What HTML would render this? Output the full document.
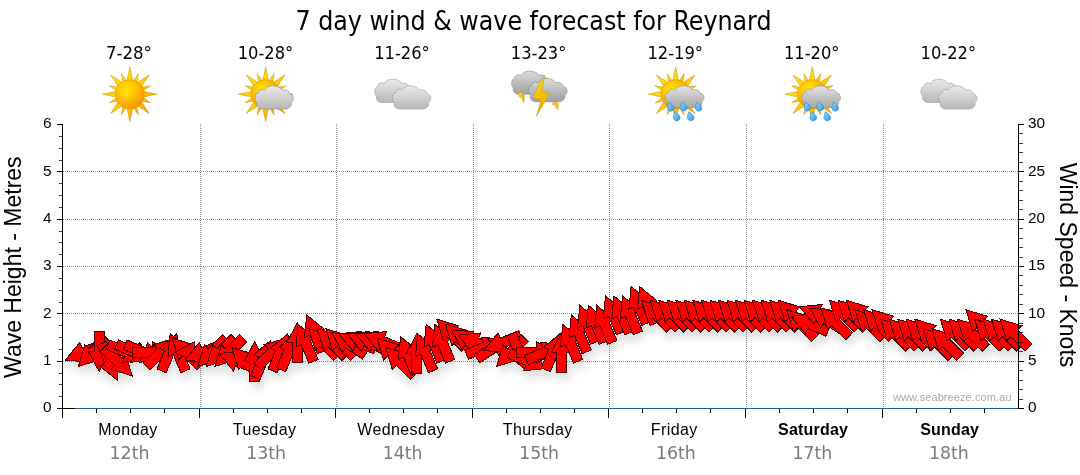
<!DOCTYPE html><html><head><meta charset="utf-8"><title>7 day wind &amp; wave forecast for Reynard</title>
<style>html,body{margin:0;padding:0;background:#fff}svg{display:block}text{font-family:"Liberation Sans",sans-serif}.t{font-family:"DejaVu Sans Condensed","DejaVu Sans","Liberation Sans",sans-serif}.v{font-family:"DejaVu Sans","Liberation Sans",sans-serif}</style></head><body>
<svg width="1080" height="475" viewBox="0 0 1080 475">
<defs>
<filter id="sh" x="-5%" y="-50%" width="110%" height="250%"><feGaussianBlur in="SourceAlpha" stdDeviation="4.5"/><feOffset dx="2" dy="7" result="b"/><feComponentTransfer><feFuncA type="linear" slope="0.13"/></feComponentTransfer><feMerge><feMergeNode/><feMergeNode in="SourceGraphic"/></feMerge></filter>
<radialGradient id="sg" cx="0.38" cy="0.35" r="0.7"><stop offset="0" stop-color="#ffe600"/><stop offset="0.45" stop-color="#ffc400"/><stop offset="1" stop-color="#f39200"/></radialGradient>
<linearGradient id="rg" x1="0" y1="0" x2="1" y2="1"><stop offset="0" stop-color="#ffe81a"/><stop offset="0.5" stop-color="#ffcb00"/><stop offset="1" stop-color="#f29a0c"/></linearGradient>
<linearGradient id="cg" x1="0" y1="0" x2="0" y2="1"><stop offset="0" stop-color="#ebebeb"/><stop offset="1" stop-color="#b6b6b6"/></linearGradient>
<linearGradient id="cgd" x1="0" y1="0" x2="0" y2="1"><stop offset="0" stop-color="#dcdcdc"/><stop offset="1" stop-color="#a0a0a0"/></linearGradient>
<linearGradient id="cgr" x1="0" y1="0" x2="0" y2="1"><stop offset="0" stop-color="#e2e2e2"/><stop offset="1" stop-color="#a8a8a8"/></linearGradient>
<linearGradient id="bg" x1="0" y1="0" x2="0.3" y2="1"><stop offset="0" stop-color="#ffe400"/><stop offset="1" stop-color="#f0a800"/></linearGradient>
<linearGradient id="dg" x1="0" y1="0" x2="1" y2="1"><stop offset="0" stop-color="#9adcfa"/><stop offset="1" stop-color="#2a97e2"/></linearGradient>
<path id="cl" d="M7.5,23.3 C3,23.3 0.8,20 2,17 C-0.8,15 -0.8,8.5 3.2,7 C3.5,3.6 7.4,2.6 9.4,4.8 C11,1.2 15,0 18,0 C22,0 26,1.8 27.2,4.6 C30,3 34.2,4.6 34.6,8 C38.8,8.6 39.8,14.2 36.2,17 C37.2,20 34.2,23.3 30,23.3 Z"/>
<g id="sunb"><path fill="url(#rg)" stroke="#c98c00" stroke-width="0.5" d="M2.9,-13.5 L0.0,-27.3 L-2.9,-13.5 Z M7.0,-11.7 L8.5,-20.6 L3.3,-13.2 Z M11.6,-7.5 L19.3,-19.3 L7.5,-11.6 Z M13.2,-3.3 L20.6,-8.5 L11.7,-7.0 Z M13.5,2.9 L27.3,0.0 L13.5,-2.9 Z M11.7,7.0 L20.6,8.5 L13.2,3.3 Z M7.5,11.6 L19.3,19.3 L11.6,7.5 Z M3.3,13.2 L8.5,20.6 L7.0,11.7 Z M-2.9,13.5 L0.0,27.3 L2.9,13.5 Z M-7.0,11.7 L-8.5,20.6 L-3.3,13.2 Z M-11.6,7.5 L-19.3,19.3 L-7.5,11.6 Z M-13.2,3.3 L-20.6,8.5 L-11.7,7.0 Z M-13.5,-2.9 L-27.3,0.0 L-13.5,2.9 Z M-11.7,-7.0 L-20.6,-8.5 L-13.2,-3.3 Z M-7.5,-11.6 L-19.3,-19.3 L-11.6,-7.5 Z M-3.3,-13.2 L-8.5,-20.6 L-7.0,-11.7 Z"/><circle r="14.6" fill="url(#sg)" stroke="#e09a00" stroke-width="0.5"/></g>
<g id="drop"><path transform="scale(1.25)" d="M-1.6,-3.6 C0.5,-2.2 2.6,-0.6 2.6,1.2 C2.6,2.8 1.4,3.6 0,3.6 C-1.6,3.6 -2.7,2.4 -2.7,1 C-2.7,-0.6 -2,-2 -1.6,-3.6 Z" fill="url(#dg)" stroke="#2486cf" stroke-width="0.5"/></g>
<g id="sun"><use href="#sunb" x="-0.4"/></g>
<g id="suncloud"><use href="#sunb" x="-1.2"/><use href="#cl" x="-11.9" y="-8.4" fill="url(#cg)" stroke="#8a8a8a" stroke-width="0.6"/></g>
<g id="clouds"><use href="#cl" x="-28.8" y="-15" fill="url(#cg)" stroke="#9a9a9a" stroke-width="0.6"/><use href="#cl" x="-11.1" y="-8.4" fill="url(#cg)" stroke="#9a9a9a" stroke-width="0.6"/></g>
<g id="storm"><use href="#cl" x="-28.4" y="-23.2" fill="url(#cgd)" stroke="#888" stroke-width="0.6"/><path d="M-21.5,-1.8 L-17.4,-1.8 L-18,1.4 L-15.6,0.9 L-16,8.6 L-19,2.6 L-20.6,3 Z" fill="url(#bg)" stroke="#c99700" stroke-width="0.4"/><path d="M13.2,7 L17.4,6.4 L16,9 L18.4,8.8 L17.6,15.6 L14.6,10.4 L12.6,10.8 Z" fill="url(#bg)" stroke="#c99700" stroke-width="0.4"/><use href="#cl" x="-11.4" y="-15.8" fill="url(#cgd)" stroke="#888" stroke-width="0.6" transform="translate(0,0)"/><path d="M4.5,-19 L-7.7,3.4 L1.1,5.3 L-3.6,22.2 L9.7,-1 L1.8,-2.5 Z" fill="url(#bg)" stroke="#c99700" stroke-width="0.5"/></g>
<g id="sunrain"><use href="#sunb" x="-0.9"/><path transform="translate(-11.6,-8.4) scale(1.016,0.94)" d="M7.5,23.3 C3,23.3 0.8,20 2,17 C-0.8,15 -0.8,8.5 3.2,7 C3.5,3.6 7.4,2.6 9.4,4.8 C11,1.2 15,0 18,0 C22,0 26,1.8 27.2,4.6 C30,3 34.2,4.6 34.6,8 C38.8,8.6 39.8,14.2 36.2,17 C37.2,20 34.2,23.3 30,23.3 Z" fill="url(#cgr)" stroke="#8c8c8c" stroke-width="0.6"/><use href="#drop" x="-5.7" y="12.4"/><use href="#drop" x="7.3" y="12"/><use href="#drop" x="22.1" y="12.4"/><use href="#drop" x="0.2" y="22"/><use href="#drop" x="14.2" y="22"/></g>
</defs>

<rect width="1080" height="475" fill="#fff"/>
<text class="t" x="533.5" y="29.5" font-size="26.67" text-anchor="middle" textLength="476" lengthAdjust="spacingAndGlyphs" fill="#000">7 day wind &amp; wave forecast for Reynard</text>
<text class="t" x="128.9" y="58.8" font-size="17.33" text-anchor="middle" textLength="45.9" lengthAdjust="spacingAndGlyphs" fill="#000">7-28°</text>
<use href="#sun" x="130.29" y="94.2"/>
<text class="t" x="265.5" y="58.8" font-size="17.33" text-anchor="middle" textLength="55.5" lengthAdjust="spacingAndGlyphs" fill="#000">10-28°</text>
<use href="#suncloud" x="266.86" y="94.2"/>
<text class="t" x="402.0" y="58.8" font-size="17.33" text-anchor="middle" textLength="55.5" lengthAdjust="spacingAndGlyphs" fill="#000">11-26°</text>
<use href="#clouds" x="403.43" y="94.2"/>
<text class="t" x="538.6" y="58.8" font-size="17.33" text-anchor="middle" textLength="55.5" lengthAdjust="spacingAndGlyphs" fill="#000">13-23°</text>
<use href="#storm" x="540.00" y="94.2"/>
<text class="t" x="675.2" y="58.8" font-size="17.33" text-anchor="middle" textLength="55.5" lengthAdjust="spacingAndGlyphs" fill="#000">12-19°</text>
<use href="#sunrain" x="676.57" y="94.2"/>
<text class="t" x="811.7" y="58.8" font-size="17.33" text-anchor="middle" textLength="55.5" lengthAdjust="spacingAndGlyphs" fill="#000">11-20°</text>
<use href="#sunrain" x="813.14" y="94.2"/>
<text class="t" x="948.3" y="58.8" font-size="17.33" text-anchor="middle" textLength="55.5" lengthAdjust="spacingAndGlyphs" fill="#000">10-22°</text>
<use href="#clouds" x="949.71" y="94.2"/>
<g stroke="#909090" stroke-width="1" stroke-dasharray="1,1" shape-rendering="crispEdges"><line x1="63" x2="1018" y1="361.5" y2="361.5"/><line x1="63" x2="1018" y1="313.5" y2="313.5"/><line x1="63" x2="1018" y1="266.5" y2="266.5"/><line x1="63" x2="1018" y1="219.5" y2="219.5"/><line x1="63" x2="1018" y1="171.5" y2="171.5"/></g>
<g stroke="#909090" stroke-width="1" stroke-dasharray="1,1" shape-rendering="crispEdges"><line x1="200.5" x2="200.5" y1="124" y2="408"/><line x1="336.5" x2="336.5" y1="124" y2="408"/><line x1="473.5" x2="473.5" y1="124" y2="408"/><line x1="609.5" x2="609.5" y1="124" y2="408"/><line x1="746.5" x2="746.5" y1="124" y2="408"/><line x1="883.5" x2="883.5" y1="124" y2="408"/></g>
<text x="893" y="401" font-size="11" fill="#a8a8a8" textLength="118.5" lengthAdjust="spacing">www.seabreeze.com.au</text>
<g filter="url(#sh)"><g fill="#f00" stroke="#480000" stroke-width="1" stroke-linejoin="miter" shape-rendering="crispEdges"><polygon points="65.4,360.0 79.8,342.4 82.0,347.7 100.5,340.0 104.3,349.3 85.8,356.9 88.0,362.2"/><polygon points="78.3,366.4 84.9,344.7 88.9,348.8 103.0,334.6 110.1,341.7 96.0,355.8 100.0,359.9"/><polygon points="99.1,371.4 88.4,351.4 94.1,351.4 94.1,331.4 104.1,331.4 104.1,351.4 109.8,351.4"/><polygon points="117.2,380.2 99.6,365.9 104.9,363.7 97.2,345.2 106.5,341.4 114.1,359.9 119.4,357.7"/><polygon points="132.2,375.9 110.5,369.3 114.5,365.3 100.4,351.2 107.4,344.1 121.6,358.2 125.6,354.2"/><polygon points="145.1,360.0 122.5,362.2 124.7,356.9 106.2,349.3 110.0,340.0 128.5,347.7 130.7,342.4"/><polygon points="153.6,360.0 131.0,362.2 133.2,356.9 114.7,349.3 118.6,340.0 137.0,347.7 139.2,342.4"/><polygon points="162.1,360.0 139.6,362.2 141.7,356.9 123.3,349.3 127.1,340.0 145.6,347.7 147.7,342.4"/><polygon points="172.2,352.3 152.2,363.0 152.2,357.3 132.2,357.3 132.2,347.3 152.2,347.3 152.2,341.6"/><polygon points="174.9,338.2 168.3,359.9 164.3,355.8 150.1,370.0 143.0,362.9 157.2,348.8 153.2,344.7"/><polygon points="176.9,333.8 179.1,356.4 173.9,354.2 166.2,372.7 157.0,368.9 164.6,350.4 159.4,348.2"/><polygon points="170.1,333.8 187.7,348.2 182.4,350.4 190.1,368.9 180.8,372.7 173.2,354.2 167.9,356.4"/><polygon points="172.2,338.2 193.9,344.7 189.9,348.8 204.0,362.9 196.9,370.0 182.8,355.8 178.8,359.9"/><polygon points="174.9,352.3 194.9,341.6 194.9,347.3 214.9,347.3 214.9,357.3 194.9,357.3 194.9,363.0"/><polygon points="184.9,360.0 199.3,342.4 201.5,347.7 220.0,340.0 223.8,349.3 205.3,356.9 207.5,362.2"/><polygon points="197.8,366.4 204.4,344.7 208.4,348.8 222.5,334.6 229.6,341.7 215.5,355.8 219.5,359.9"/><polygon points="206.3,366.4 212.9,344.7 216.9,348.8 231.1,334.6 238.2,341.7 224.0,355.8 228.0,359.9"/><polygon points="214.9,366.4 221.4,344.7 225.5,348.8 239.6,334.6 246.7,341.7 232.5,355.8 236.6,359.9"/><polygon points="219.1,353.5 241.6,351.2 239.5,356.5 257.9,364.1 254.1,373.4 235.6,365.7 233.5,371.0"/><polygon points="231.9,347.6 253.7,354.2 249.6,358.2 263.8,372.4 256.7,379.4 242.5,365.3 238.5,369.3"/><polygon points="254.6,341.8 265.3,361.8 259.6,361.8 259.6,381.8 249.6,381.8 249.6,361.8 243.9,361.8"/><polygon points="270.8,340.4 273.0,363.0 267.8,360.8 260.1,379.3 250.9,375.5 258.5,357.0 253.3,354.8"/><polygon points="285.8,338.2 279.3,359.9 275.2,355.8 261.1,370.0 254.0,362.9 268.2,348.8 264.1,344.7"/><polygon points="287.9,333.8 290.1,356.4 284.8,354.2 277.2,372.7 268.0,368.9 275.6,350.4 270.3,348.2"/><polygon points="296.4,332.9 298.6,355.4 293.4,353.3 285.7,371.7 276.5,367.9 284.1,349.4 278.9,347.3"/><polygon points="297.3,322.8 308.0,342.8 302.3,342.8 302.3,362.8 292.3,362.8 292.3,342.8 286.6,342.8"/><polygon points="298.2,324.4 315.7,338.7 310.5,340.9 318.1,359.4 308.9,363.2 301.2,344.7 296.0,346.9"/><polygon points="306.7,314.9 324.3,329.3 319.0,331.5 326.6,349.9 317.4,353.8 309.8,335.3 304.5,337.5"/><polygon points="308.8,328.7 330.5,335.3 326.4,339.3 340.6,353.4 333.5,360.5 319.4,346.4 315.3,350.4"/><polygon points="317.3,328.7 339.0,335.3 335.0,339.3 349.1,353.4 342.1,360.5 327.9,346.4 323.9,350.4"/><polygon points="325.8,328.7 347.5,335.3 343.5,339.3 357.7,353.4 350.6,360.5 336.4,346.4 332.4,350.4"/><polygon points="331.9,332.7 354.5,334.9 351.3,339.6 367.9,350.7 362.4,359.0 345.7,347.9 342.6,352.7"/><polygon points="338.6,333.8 361.1,331.5 359.0,336.8 377.4,344.4 373.6,353.7 355.1,346.0 353.0,351.3"/><polygon points="347.1,333.8 369.7,331.5 367.5,336.8 386.0,344.4 382.2,353.7 363.7,346.0 361.5,351.3"/><polygon points="355.6,333.8 378.2,331.5 376.0,336.8 394.5,344.4 390.7,353.7 372.2,346.0 370.0,351.3"/><polygon points="364.2,333.8 386.8,331.5 384.6,336.8 403.1,344.4 399.2,353.7 380.7,346.0 378.6,351.3"/><polygon points="377.1,338.2 398.8,344.7 394.7,348.8 408.9,362.9 401.8,370.0 387.7,355.8 383.6,359.9"/><polygon points="385.6,347.6 407.3,354.2 403.3,358.2 417.4,372.4 410.3,379.4 396.2,365.3 392.2,369.3"/><polygon points="400.6,336.7 418.2,351.0 412.9,353.2 420.5,371.7 411.3,375.5 403.6,357.1 398.4,359.2"/><polygon points="416.8,333.7 427.5,353.7 421.8,353.7 421.8,373.7 411.8,373.7 411.8,353.7 406.1,353.7"/><polygon points="417.7,333.8 435.2,348.2 430.0,350.4 437.6,368.9 428.4,372.7 420.7,354.2 415.5,356.4"/><polygon points="426.2,324.4 443.8,338.7 438.5,340.9 446.1,359.4 436.9,363.2 429.3,344.7 424.0,346.9"/><polygon points="434.8,324.4 452.3,338.7 447.0,340.9 454.7,359.4 445.4,363.2 437.8,344.7 432.5,346.9"/><polygon points="436.8,319.2 458.5,325.8 454.5,329.8 468.6,344.0 461.6,351.0 447.4,336.9 443.4,340.9"/><polygon points="445.3,324.0 467.1,330.5 463.0,334.6 477.2,348.7 470.1,355.8 455.9,341.6 451.9,345.7"/><polygon points="451.4,329.8 474.0,332.0 470.8,336.8 487.4,347.9 481.9,356.2 465.2,345.1 462.1,349.8"/><polygon points="458.1,335.2 480.7,332.9 478.5,338.2 496.9,345.9 493.1,355.1 474.6,347.5 472.5,352.7"/><polygon points="503.6,339.3 489.2,356.9 487.0,351.6 468.5,359.3 464.7,350.0 483.2,342.4 481.0,337.1"/><polygon points="510.3,336.5 499.6,356.5 496.4,351.7 479.8,362.8 474.2,354.5 490.9,343.4 487.7,338.7"/><polygon points="483.7,350.5 498.1,332.9 500.3,338.2 518.7,330.6 522.6,339.8 504.1,347.5 506.3,352.7"/><polygon points="496.6,366.4 503.1,344.7 507.2,348.8 521.3,334.6 528.4,341.7 514.2,355.8 518.3,359.9"/><polygon points="526.9,370.8 509.4,356.4 514.6,354.2 507.0,335.7 516.2,331.9 523.9,350.4 529.1,348.2"/><polygon points="546.2,368.5 523.7,370.7 525.9,365.4 507.4,357.8 511.2,348.5 529.7,356.2 531.9,350.9"/><polygon points="556.3,352.3 536.3,363.0 536.3,357.3 516.3,357.3 516.3,347.3 536.3,347.3 536.3,341.6"/><polygon points="563.3,344.6 548.9,362.2 546.8,356.9 528.3,364.6 524.5,355.3 542.9,347.7 540.7,342.4"/><polygon points="561.0,332.9 563.3,355.4 558.0,353.3 550.3,371.7 541.1,367.9 548.8,349.4 543.5,347.3"/><polygon points="561.9,332.3 572.6,352.3 566.9,352.3 566.9,372.3 556.9,372.3 556.9,352.3 551.2,352.3"/><polygon points="562.8,324.4 580.3,338.7 575.1,340.9 582.7,359.4 573.5,363.2 565.8,344.7 560.6,346.9"/><polygon points="571.3,314.9 588.9,329.3 583.6,331.5 591.3,349.9 582.0,353.8 574.4,335.3 569.1,337.5"/><polygon points="579.9,305.4 597.4,319.8 592.1,322.0 599.8,340.5 590.6,344.3 582.9,325.8 577.6,328.0"/><polygon points="588.4,305.4 605.9,319.8 600.7,322.0 608.3,340.5 599.1,344.3 591.4,325.8 586.2,328.0"/><polygon points="596.9,305.4 614.5,319.8 609.2,322.0 616.9,340.5 607.6,344.3 600.0,325.8 594.7,328.0"/><polygon points="605.5,296.0 623.0,310.3 617.8,312.5 625.4,331.0 616.2,334.8 608.5,316.3 603.2,318.5"/><polygon points="614.0,296.0 631.6,310.3 626.3,312.5 633.9,331.0 624.7,334.8 617.0,316.3 611.8,318.5"/><polygon points="622.6,296.0 640.1,310.3 634.8,312.5 642.5,331.0 633.2,334.8 625.6,316.3 620.3,318.5"/><polygon points="631.1,286.5 648.6,300.9 643.4,303.1 651.0,321.5 641.8,325.4 634.1,306.9 628.9,309.1"/><polygon points="639.6,286.5 657.2,300.9 651.9,303.1 659.5,321.5 650.3,325.4 642.7,306.9 637.4,309.1"/><polygon points="641.7,300.3 663.4,306.9 659.3,310.9 673.5,325.0 666.4,332.1 652.3,318.0 648.2,322.0"/><polygon points="650.2,300.3 671.9,306.9 667.9,310.9 682.0,325.0 675.0,332.1 660.8,318.0 656.8,322.0"/><polygon points="658.7,300.3 680.5,306.9 676.4,310.9 690.6,325.0 683.5,332.1 669.3,318.0 665.3,322.0"/><polygon points="667.3,300.3 689.0,306.9 685.0,310.9 699.1,325.0 692.0,332.1 677.9,318.0 673.9,322.0"/><polygon points="675.8,300.3 697.5,306.9 693.5,310.9 707.6,325.0 700.6,332.1 686.4,318.0 682.4,322.0"/><polygon points="684.3,300.3 706.1,306.9 702.0,310.9 716.2,325.0 709.1,332.1 695.0,318.0 690.9,322.0"/><polygon points="692.9,300.3 714.6,306.9 710.6,310.9 724.7,325.0 717.6,332.1 703.5,318.0 699.5,322.0"/><polygon points="701.4,300.3 723.1,306.9 719.1,310.9 733.2,325.0 726.2,332.1 712.0,318.0 708.0,322.0"/><polygon points="710.0,300.3 731.7,306.9 727.6,310.9 741.8,325.0 734.7,332.1 720.6,318.0 716.5,322.0"/><polygon points="718.5,300.3 740.2,306.9 736.2,310.9 750.3,325.0 743.2,332.1 729.1,318.0 725.1,322.0"/><polygon points="727.0,300.3 748.7,306.9 744.7,310.9 758.8,325.0 751.8,332.1 737.6,318.0 733.6,322.0"/><polygon points="735.6,300.3 757.3,306.9 753.2,310.9 767.4,325.0 760.3,332.1 746.2,318.0 742.1,322.0"/><polygon points="744.1,300.3 765.8,306.9 761.8,310.9 775.9,325.0 768.9,332.1 754.7,318.0 750.7,322.0"/><polygon points="752.6,300.3 774.3,306.9 770.3,310.9 784.5,325.0 777.4,332.1 763.2,318.0 759.2,322.0"/><polygon points="761.2,300.3 782.9,306.9 778.9,310.9 793.0,325.0 785.9,332.1 771.8,318.0 767.7,322.0"/><polygon points="769.7,300.3 791.4,306.9 787.4,310.9 801.5,325.0 794.5,332.1 780.3,318.0 776.3,322.0"/><polygon points="778.2,300.3 800.0,306.9 795.9,310.9 810.1,325.0 803.0,332.1 788.9,318.0 784.8,322.0"/><polygon points="786.8,309.8 808.5,316.3 804.5,320.4 818.6,334.5 811.5,341.6 797.4,327.4 793.4,331.5"/><polygon points="791.0,316.2 813.6,314.0 811.4,319.3 829.9,326.9 826.0,336.2 807.5,328.5 805.4,333.8"/><polygon points="799.5,306.8 822.1,304.5 819.9,309.8 838.4,317.5 834.6,326.7 816.1,319.1 813.9,324.3"/><polygon points="809.9,308.1 832.5,310.3 829.3,315.0 845.9,326.1 840.4,334.4 823.8,323.3 820.6,328.1"/><polygon points="820.9,307.9 842.6,314.4 838.6,318.5 852.7,332.6 845.7,339.7 831.5,325.5 827.5,329.6"/><polygon points="829.5,300.3 851.2,306.9 847.1,310.9 861.3,325.0 854.2,332.1 840.1,318.0 836.0,322.0"/><polygon points="838.0,300.3 859.7,306.9 855.7,310.9 869.8,325.0 862.7,332.1 848.6,318.0 844.6,322.0"/><polygon points="846.5,300.3 868.2,306.9 864.2,310.9 878.4,325.0 871.3,332.1 857.1,318.0 853.1,322.0"/><polygon points="855.1,309.8 876.8,316.3 872.7,320.4 886.9,334.5 879.8,341.6 865.7,327.4 861.6,331.5"/><polygon points="863.6,309.8 885.3,316.3 881.3,320.4 895.4,334.5 888.4,341.6 874.2,327.4 870.2,331.5"/><polygon points="872.1,309.8 893.9,316.3 889.8,320.4 904.0,334.5 896.9,341.6 882.7,327.4 878.7,331.5"/><polygon points="880.7,319.2 902.4,325.8 898.4,329.8 912.5,344.0 905.4,351.0 891.3,336.9 887.3,340.9"/><polygon points="889.2,319.2 910.9,325.8 906.9,329.8 921.0,344.0 914.0,351.0 899.8,336.9 895.8,340.9"/><polygon points="897.7,319.2 919.5,325.8 915.4,329.8 929.6,344.0 922.5,351.0 908.4,336.9 904.3,340.9"/><polygon points="906.3,319.2 928.0,325.8 924.0,329.8 938.1,344.0 931.0,351.0 916.9,336.9 912.9,340.9"/><polygon points="914.8,319.2 936.5,325.8 932.5,329.8 946.6,344.0 939.6,351.0 925.4,336.9 921.4,340.9"/><polygon points="923.4,328.7 945.1,335.3 941.0,339.3 955.2,353.4 948.1,360.5 934.0,346.4 929.9,350.4"/><polygon points="931.9,328.7 953.6,335.3 949.6,339.3 963.7,353.4 956.6,360.5 942.5,346.4 938.5,350.4"/><polygon points="940.4,319.2 962.1,325.8 958.1,329.8 972.2,344.0 965.2,351.0 951.0,336.9 947.0,340.9"/><polygon points="949.0,319.2 970.7,325.8 966.6,329.8 980.8,344.0 973.7,351.0 959.6,336.9 955.5,340.9"/><polygon points="957.5,319.2 979.2,325.8 975.2,329.8 989.3,344.0 982.3,351.0 968.1,336.9 964.1,340.9"/><polygon points="966.0,309.8 987.7,316.3 983.7,320.4 997.9,334.5 990.8,341.6 976.6,327.4 972.6,331.5"/><polygon points="974.6,319.2 996.3,325.8 992.3,329.8 1006.4,344.0 999.3,351.0 985.2,336.9 981.1,340.9"/><polygon points="983.1,319.2 1004.8,325.8 1000.8,329.8 1014.9,344.0 1007.9,351.0 993.7,336.9 989.7,340.9"/><polygon points="991.6,319.2 1013.4,325.8 1009.3,329.8 1023.5,344.0 1016.4,351.0 1002.3,336.9 998.2,340.9"/><polygon points="1000.2,319.2 1021.9,325.8 1017.9,329.8 1032.0,344.0 1024.9,351.0 1010.8,336.9 1006.8,340.9"/></g></g>
<g stroke="#000" stroke-width="1" shape-rendering="crispEdges"><line x1="62.5" x2="62.5" y1="124" y2="418"/><line x1="1018.5" x2="1018.5" y1="124" y2="409"/><line x1="57" x2="75" y1="408.5" y2="408.5"/><line x1="1018" x2="1024" y1="408.5" y2="408.5"/><line x1="57" x2="62" y1="408.5" y2="408.5"/><line x1="58.5" x2="62" y1="396.5" y2="396.5" stroke-opacity="0.75"/><line x1="58.5" x2="62" y1="384.5" y2="384.5" stroke-opacity="0.75"/><line x1="58.5" x2="62" y1="373.5" y2="373.5" stroke-opacity="0.75"/><line x1="57" x2="62" y1="361.5" y2="361.5"/><line x1="58.5" x2="62" y1="349.5" y2="349.5" stroke-opacity="0.75"/><line x1="58.5" x2="62" y1="337.5" y2="337.5" stroke-opacity="0.75"/><line x1="58.5" x2="62" y1="325.5" y2="325.5" stroke-opacity="0.75"/><line x1="57" x2="62" y1="313.5" y2="313.5"/><line x1="58.5" x2="62" y1="302.5" y2="302.5" stroke-opacity="0.75"/><line x1="58.5" x2="62" y1="290.5" y2="290.5" stroke-opacity="0.75"/><line x1="58.5" x2="62" y1="278.5" y2="278.5" stroke-opacity="0.75"/><line x1="57" x2="62" y1="266.5" y2="266.5"/><line x1="58.5" x2="62" y1="254.5" y2="254.5" stroke-opacity="0.75"/><line x1="58.5" x2="62" y1="242.5" y2="242.5" stroke-opacity="0.75"/><line x1="58.5" x2="62" y1="231.5" y2="231.5" stroke-opacity="0.75"/><line x1="57" x2="62" y1="219.5" y2="219.5"/><line x1="58.5" x2="62" y1="207.5" y2="207.5" stroke-opacity="0.75"/><line x1="58.5" x2="62" y1="195.5" y2="195.5" stroke-opacity="0.75"/><line x1="58.5" x2="62" y1="183.5" y2="183.5" stroke-opacity="0.75"/><line x1="57" x2="62" y1="171.5" y2="171.5"/><line x1="58.5" x2="62" y1="160.5" y2="160.5" stroke-opacity="0.75"/><line x1="58.5" x2="62" y1="148.5" y2="148.5" stroke-opacity="0.75"/><line x1="58.5" x2="62" y1="136.5" y2="136.5" stroke-opacity="0.75"/><line x1="57" x2="62" y1="124.5" y2="124.5"/><line x1="1019" x2="1024" y1="408.5" y2="408.5"/><line x1="1019" x2="1022.5" y1="399.5" y2="399.5" stroke-opacity="0.75"/><line x1="1019" x2="1022.5" y1="389.5" y2="389.5" stroke-opacity="0.75"/><line x1="1019" x2="1022.5" y1="380.5" y2="380.5" stroke-opacity="0.75"/><line x1="1019" x2="1022.5" y1="370.5" y2="370.5" stroke-opacity="0.75"/><line x1="1019" x2="1024" y1="361.5" y2="361.5"/><line x1="1019" x2="1022.5" y1="351.5" y2="351.5" stroke-opacity="0.75"/><line x1="1019" x2="1022.5" y1="342.5" y2="342.5" stroke-opacity="0.75"/><line x1="1019" x2="1022.5" y1="332.5" y2="332.5" stroke-opacity="0.75"/><line x1="1019" x2="1022.5" y1="323.5" y2="323.5" stroke-opacity="0.75"/><line x1="1019" x2="1024" y1="313.5" y2="313.5"/><line x1="1019" x2="1022.5" y1="304.5" y2="304.5" stroke-opacity="0.75"/><line x1="1019" x2="1022.5" y1="294.5" y2="294.5" stroke-opacity="0.75"/><line x1="1019" x2="1022.5" y1="285.5" y2="285.5" stroke-opacity="0.75"/><line x1="1019" x2="1022.5" y1="275.5" y2="275.5" stroke-opacity="0.75"/><line x1="1019" x2="1024" y1="266.5" y2="266.5"/><line x1="1019" x2="1022.5" y1="257.5" y2="257.5" stroke-opacity="0.75"/><line x1="1019" x2="1022.5" y1="247.5" y2="247.5" stroke-opacity="0.75"/><line x1="1019" x2="1022.5" y1="238.5" y2="238.5" stroke-opacity="0.75"/><line x1="1019" x2="1022.5" y1="228.5" y2="228.5" stroke-opacity="0.75"/><line x1="1019" x2="1024" y1="219.5" y2="219.5"/><line x1="1019" x2="1022.5" y1="209.5" y2="209.5" stroke-opacity="0.75"/><line x1="1019" x2="1022.5" y1="200.5" y2="200.5" stroke-opacity="0.75"/><line x1="1019" x2="1022.5" y1="190.5" y2="190.5" stroke-opacity="0.75"/><line x1="1019" x2="1022.5" y1="181.5" y2="181.5" stroke-opacity="0.75"/><line x1="1019" x2="1024" y1="171.5" y2="171.5"/><line x1="1019" x2="1022.5" y1="162.5" y2="162.5" stroke-opacity="0.75"/><line x1="1019" x2="1022.5" y1="152.5" y2="152.5" stroke-opacity="0.75"/><line x1="1019" x2="1022.5" y1="143.5" y2="143.5" stroke-opacity="0.75"/><line x1="1019" x2="1022.5" y1="133.5" y2="133.5" stroke-opacity="0.75"/><line x1="1019" x2="1024" y1="124.5" y2="124.5"/><line x1="62.5" x2="62.5" y1="408" y2="418"/><line x1="96.5" x2="96.5" y1="408" y2="413"/><line x1="130.5" x2="130.5" y1="408" y2="413"/><line x1="164.5" x2="164.5" y1="408" y2="413"/><line x1="199.5" x2="199.5" y1="408" y2="418"/><line x1="233.5" x2="233.5" y1="408" y2="413"/><line x1="267.5" x2="267.5" y1="408" y2="413"/><line x1="301.5" x2="301.5" y1="408" y2="413"/><line x1="335.5" x2="335.5" y1="408" y2="418"/><line x1="369.5" x2="369.5" y1="408" y2="413"/><line x1="403.5" x2="403.5" y1="408" y2="413"/><line x1="437.5" x2="437.5" y1="408" y2="413"/><line x1="472.5" x2="472.5" y1="408" y2="418"/><line x1="506.5" x2="506.5" y1="408" y2="413"/><line x1="540.5" x2="540.5" y1="408" y2="413"/><line x1="574.5" x2="574.5" y1="408" y2="413"/><line x1="608.5" x2="608.5" y1="408" y2="418"/><line x1="642.5" x2="642.5" y1="408" y2="413"/><line x1="676.5" x2="676.5" y1="408" y2="413"/><line x1="710.5" x2="710.5" y1="408" y2="413"/><line x1="745.5" x2="745.5" y1="408" y2="418"/><line x1="779.5" x2="779.5" y1="408" y2="413"/><line x1="813.5" x2="813.5" y1="408" y2="413"/><line x1="847.5" x2="847.5" y1="408" y2="413"/><line x1="882.5" x2="882.5" y1="408" y2="418"/><line x1="916.5" x2="916.5" y1="408" y2="413"/><line x1="950.5" x2="950.5" y1="408" y2="413"/><line x1="984.5" x2="984.5" y1="408" y2="413"/></g>
<line x1="75" x2="1018" y1="408.5" y2="408.5" stroke="#1f5c8f" stroke-width="1.2"/>
<text x="51.5" y="412.2" font-size="15.4" text-anchor="end" fill="#000">0</text>
<text x="1028" y="412.2" font-size="15.4" fill="#000">0</text>
<text x="51.5" y="364.9" font-size="15.4" text-anchor="end" fill="#000">1</text>
<text x="1028" y="364.9" font-size="15.4" fill="#000">5</text>
<text x="51.5" y="317.5" font-size="15.4" text-anchor="end" fill="#000">2</text>
<text x="1028" y="317.5" font-size="15.4" fill="#000">10</text>
<text x="51.5" y="270.2" font-size="15.4" text-anchor="end" fill="#000">3</text>
<text x="1028" y="270.2" font-size="15.4" fill="#000">15</text>
<text x="51.5" y="222.9" font-size="15.4" text-anchor="end" fill="#000">4</text>
<text x="1028" y="222.9" font-size="15.4" fill="#000">20</text>
<text x="51.5" y="175.5" font-size="15.4" text-anchor="end" fill="#000">5</text>
<text x="1028" y="175.5" font-size="15.4" fill="#000">25</text>
<text x="51.5" y="128.2" font-size="15.4" text-anchor="end" fill="#000">6</text>
<text x="1028" y="128.2" font-size="15.4" fill="#000">30</text>
<text transform="translate(20.5,267.2) rotate(-90)" font-size="23" text-anchor="middle" fill="#000">Wave Height - Metres</text>
<text transform="translate(1059.8,265) rotate(90)" font-size="23" text-anchor="middle" fill="#000">Wind Speed - Knots</text>
<text x="128.0" y="435.4" font-size="16" text-anchor="middle" fill="#000" letter-spacing="0.4">Monday</text>
<text class="v" x="129.5" y="458.5" font-size="17.33" text-anchor="middle" fill="#7a7a7a" textLength="39.8" lengthAdjust="spacingAndGlyphs">12th</text>
<text x="264.6" y="435.4" font-size="16" text-anchor="middle" fill="#000" letter-spacing="0.4">Tuesday</text>
<text class="v" x="266.1" y="458.5" font-size="17.33" text-anchor="middle" fill="#7a7a7a" textLength="39.8" lengthAdjust="spacingAndGlyphs">13th</text>
<text x="401.1" y="435.4" font-size="16" text-anchor="middle" fill="#000" letter-spacing="0.4">Wednesday</text>
<text class="v" x="402.6" y="458.5" font-size="17.33" text-anchor="middle" fill="#7a7a7a" textLength="39.8" lengthAdjust="spacingAndGlyphs">14th</text>
<text x="537.7" y="435.4" font-size="16" text-anchor="middle" fill="#000" letter-spacing="0.4">Thursday</text>
<text class="v" x="539.2" y="458.5" font-size="17.33" text-anchor="middle" fill="#7a7a7a" textLength="39.8" lengthAdjust="spacingAndGlyphs">15th</text>
<text x="674.3" y="435.4" font-size="16" text-anchor="middle" fill="#000" letter-spacing="0.4">Friday</text>
<text class="v" x="675.8" y="458.5" font-size="17.33" text-anchor="middle" fill="#7a7a7a" textLength="39.8" lengthAdjust="spacingAndGlyphs">16th</text>
<text x="813.1" y="435.4" font-size="16" text-anchor="middle" fill="#000" font-weight="bold" letter-spacing="0.2">Saturday</text>
<text class="v" x="812.3" y="458.5" font-size="17.33" text-anchor="middle" fill="#7a7a7a" textLength="39.8" lengthAdjust="spacingAndGlyphs">17th</text>
<text x="949.7" y="435.4" font-size="16" text-anchor="middle" fill="#000" font-weight="bold" letter-spacing="0.2">Sunday</text>
<text class="v" x="948.9" y="458.5" font-size="17.33" text-anchor="middle" fill="#7a7a7a" textLength="39.8" lengthAdjust="spacingAndGlyphs">18th</text>
</svg></body></html>
